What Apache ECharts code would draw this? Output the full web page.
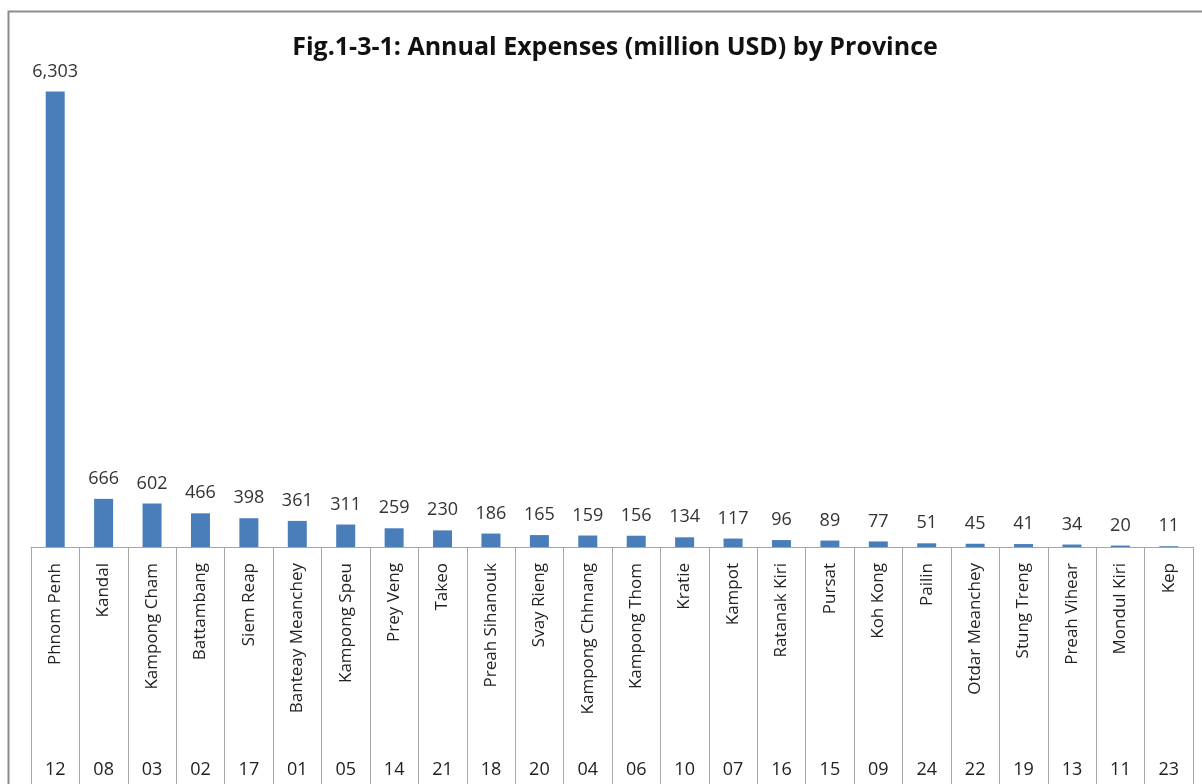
<!DOCTYPE html>
<html>
<head>
<meta charset="utf-8">
<script src="https://cdn.jsdelivr.net/npm/echarts@6/dist/echarts.min.js"></script>
<style>html,body{margin:0;padding:0;background:#fff;}#c{width:1202px;height:784px;}</style>
</head>
<body>
<div id="c"></div>
<script>
const provinces = ["Phnom Penh","Kandal","Kampong Cham","Battambang","Siem Reap","Banteay Meanchey","Kampong Speu","Prey Veng","Takeo","Preah Sihanouk","Svay Rieng","Kampong Chhnang","Kampong Thom","Kratie","Kampot","Ratanak Kiri","Pursat","Koh Kong","Pailin","Otdar Meanchey","Stung Treng","Preah Vihear","Mondul Kiri","Kep"];
const codes = ["12","08","03","02","17","01","05","14","21","18","20","04","06","10","07","16","15","09","24","22","19","13","11","23"];
const expenses = [6303,666,602,466,398,361,311,259,230,186,165,159,156,134,117,96,89,77,51,45,41,34,20,11];

const chart = echarts.init(document.getElementById('c'));
const font = '"Open Sans", "Noto Sans", sans-serif';
chart.setOption({
  animation: false,
  backgroundColor: '#fff',
  title: {
    text: 'Fig.1-3-1: Annual Expenses (million USD) by Province',
    left: 610, top: 30, textAlign: 'center',
    textStyle: {fontFamily: font, fontSize: 25, fontWeight: 'bold', color: '#111'}
  },
  graphic: [{
    type: 'rect', shape: {x: 8.5, y: 11.5, width: 1210, height: 800},
    style: {fill: 'none', stroke: '#8c8c8c', lineWidth: 2}, silent: true, z: -1
  }],
  grid: {left: 31, right: 9, top: 41, bottom: 237},
  xAxis: [{
    type: 'category', data: provinces, position: 'bottom',
    axisLine: {show: true, lineStyle: {color: '#a6a6a6', width: 1}},
    axisTick: {show: true, length: 240, lineStyle: {color: '#a6a6a6'}},
    axisLabel: {rotate: 90, margin: 16, interval: 0, fontFamily: font, fontSize: 17, color: '#222'}
  }, {
    type: 'category', data: codes, position: 'bottom',
    axisLine: {show: false}, axisTick: {show: false},
    axisLabel: {margin: 214, interval: 0, fontFamily: font, fontSize: 18, color: '#222'}
  }],
  yAxis: {
    type: 'value', min: 0, max: 7000, show: false,
    splitLine: {show: false}
  },
  series: [{
    type: 'bar', data: expenses, xAxisIndex: 0, barWidth: 19,
    itemStyle: {color: '#4a7ebb'},
    label: {
      show: true, position: 'top', distance: 11,
      fontFamily: font, fontSize: 18, color: '#333',
      formatter: p => p.value.toLocaleString('en-US')
    }
  }]
});
</script>
</body>
</html>
